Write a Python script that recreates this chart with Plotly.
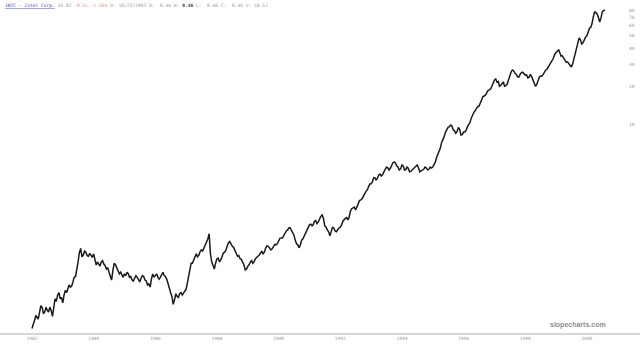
import pandas as pd
import plotly.graph_objects as go

# Month-start readings (approx.), Jan 1982 .. Aug 2000
closes = [
    0.245, 0.285, 0.30, 0.33, 0.36, 0.33, 0.34, 0.36, 0.305, 0.42, 0.45, 0.42,   # 1982
    0.39, 0.49, 0.51, 0.52, 0.57, 0.63, 0.82, 1.05, 0.93, 0.98, 0.91, 0.93,      # 1983
    0.95, 0.775, 0.79, 0.82, 0.79, 0.72, 0.68, 0.59, 0.80, 0.74, 0.66, 0.64,     # 1984
    0.66, 0.68, 0.62, 0.59, 0.61, 0.62, 0.57, 0.64, 0.59, 0.54, 0.52, 0.66,      # 1985
    0.646, 0.62, 0.62, 0.68, 0.63, 0.55, 0.47, 0.38, 0.46, 0.43, 0.47, 0.47,     # 1986
    0.50, 0.646, 0.80, 0.85, 0.95, 0.93, 1.02, 1.06, 1.22, 1.37, 0.82, 0.72,     # 1987
    0.87, 0.82, 0.91, 0.98, 1.09, 1.19, 1.09, 1.02, 0.91, 0.87, 0.82, 0.71,      # 1988
    0.76, 0.82, 0.80, 0.87, 0.91, 0.98, 0.95, 1.06, 1.09, 1.02, 1.09, 1.12,      # 1989
    1.20, 1.27, 1.32, 1.44, 1.52, 1.47, 1.34, 1.14, 1.06, 1.22, 1.32, 1.47,      # 1990
    1.61, 1.58, 1.72, 1.65, 1.81, 1.93, 1.58, 1.47, 1.32, 1.54, 1.44, 1.47,      # 1991
    1.54, 1.72, 1.81, 1.76, 2.07, 2.20, 2.11, 2.42, 2.53, 2.71, 2.96, 3.26,      # 1992
    3.39, 3.80, 3.64, 3.98, 3.91, 4.22, 4.60, 4.36, 4.78, 5.05, 4.69, 4.36,      # 1993
    4.78, 4.36, 4.60, 4.22, 4.36, 4.60, 4.78, 4.22, 4.36, 4.60, 4.36, 4.60,      # 1994
    4.60, 5.05, 5.73, 6.50, 7.52, 8.69, 9.47, 9.89, 9.02, 8.50, 9.47, 8.24,      # 1995
    8.69, 9.02, 9.89, 11.2, 12.4, 13.4, 13.9, 15.6, 16.8, 17.7, 18.7, 20.0,      # 1996
    22.4, 21.5, 20.0, 21.1, 20.0, 20.8, 24.1, 26.9, 25.3, 23.7, 24.8, 25.8,      # 1997
    24.5, 23.3, 24.8, 22.4, 20.0, 22.4, 24.1, 24.8, 26.9, 28.4, 31.0, 33.4,      # 1998
    37.2, 38.7, 34.6, 33.4, 31.0, 30.0, 28.4, 33.4, 40.1, 48.2, 43.1, 46.4,      # 1999
    50.0, 57.4, 62.2, 77.2, 74.5, 64.2, 77.2, 80.0,                              # 2000
]
# Mid-month readings (between consecutive month-start readings)
mid_closes = [
    0.27, 0.31, 0.29, 0.37, 0.32, 0.36, 0.33, 0.34, 0.37, 0.40, 0.47, 0.43,      # 1982
    0.45, 0.47, 0.54, 0.53, 0.62, 0.70, 0.97, 0.90, 1.00, 0.92, 0.96, 0.89,      # 1983
    0.84, 0.82, 0.76, 0.84, 0.77, 0.74, 0.62, 0.70, 0.78, 0.69, 0.68, 0.62,      # 1984
    0.64, 0.66, 0.63, 0.58, 0.64, 0.60, 0.61, 0.63, 0.58, 0.55, 0.60, 0.62,      # 1985
    0.66, 0.60, 0.66, 0.64, 0.60, 0.49, 0.44, 0.41, 0.44, 0.46, 0.45, 0.49,      # 1986
    0.56, 0.74, 0.80, 0.92, 0.90, 0.99, 1.00, 1.15, 1.25, 0.95, 0.78, 0.80,      # 1987
    0.88, 0.85, 0.96, 1.01, 1.16, 1.12, 1.07, 0.98, 0.92, 0.86, 0.78, 0.72,      # 1988
    0.78, 0.84, 0.82, 0.90, 0.93, 1.00, 0.98, 1.10, 1.04, 1.04, 1.13, 1.14,      # 1989
    1.26, 1.27, 1.40, 1.46, 1.53, 1.42, 1.22, 1.12, 1.12, 1.25, 1.37, 1.52,      # 1990
    1.63, 1.62, 1.74, 1.70, 1.88, 1.80, 1.55, 1.42, 1.40, 1.52, 1.42, 1.52,      # 1991
    1.60, 1.78, 1.84, 1.86, 2.16, 2.22, 2.22, 2.50, 2.58, 2.88, 3.04, 3.38,      # 1992
    3.52, 3.78, 3.74, 4.05, 4.00, 4.48, 4.56, 4.50, 4.98, 4.95, 4.60, 4.45,      # 1993
    4.70, 4.40, 4.50, 4.25, 4.45, 4.62, 4.55, 4.30, 4.42, 4.55, 4.42, 4.52,      # 1994
    4.80, 5.50, 6.00, 7.20, 8.00, 9.20, 9.60, 9.70, 8.90, 8.80, 9.10, 8.30,      # 1995
    8.70, 9.60, 10.3, 12.0, 12.8, 13.8, 14.5, 16.5, 17.0, 18.5, 19.0, 21.5,      # 1996
    22.8, 21.8, 20.3, 21.6, 20.2, 22.5, 25.8, 26.5, 24.9, 23.6, 25.6, 25.0,      # 1997
    24.6, 23.6, 24.0, 21.5, 20.6, 23.6, 24.0, 26.0, 27.3, 30.0, 31.8, 35.8,      # 1998
    38.0, 37.0, 34.8, 32.6, 31.2, 29.6, 30.0, 36.5, 44.0, 46.8, 44.0, 48.8,      # 1999
    54.0, 58.5, 70.0, 76.5, 70.0, 69.0, 79.0,                                    # 2000
]
month_dates = pd.date_range("1982-01-01", periods=len(closes), freq="MS")
mid_dates = month_dates[:len(mid_closes)] + pd.Timedelta(days=15)

series = pd.concat([
    pd.Series(closes, index=month_dates),
    pd.Series(mid_closes, index=mid_dates),
]).sort_index()

year_ticks = [f"{y}-01-01" for y in range(1982, 2001, 2)]
year_labels = [str(y) for y in range(1982, 2001, 2)]
price_ticks = [10, 20, 30, 40, 50, 60, 70, 80]
price_labels = [str(v) for v in price_ticks]

header = ("<span style='color:#3a3acc'><u>INTC - Intel Corp.</u></span> "
          "<span style='color:#999'>34.82</span> "
          "<span style='color:#e89090'>-0.51 -1.56%</span> "
          "<span style='color:#999'>D: 10/22/1993 O:  0.46 H:</span> "
          "<span style='color:#444'><b>0.46</b></span> "
          "<span style='color:#999'>L:  0.46 C:  0.46 V: 18.57</span>")

fig = go.Figure()
fig.add_trace(go.Scatter(
    x=series.index, y=series.values, mode="lines",
    line=dict(color="#1a1a1a", width=1.5),
    hoverinfo="skip", showlegend=False,
))

fig.update_layout(
    width=640, height=345,
    margin=dict(l=0, r=12, t=0, b=11),
    paper_bgcolor="white", plot_bgcolor="white",
    xaxis=dict(
        range=["1980-12-18", "2001-05-02"],
        tickvals=year_ticks, ticktext=year_labels,
        showgrid=False, zeroline=False, showline=False,
        ticks="", tickfont=dict(size=4.5, color="#999", family="DejaVu Sans Mono"),
    ),
    yaxis=dict(
        type="log", side="right",
        range=[-0.655, 1.982],
        tickvals=price_ticks, ticktext=price_labels,
        showgrid=False, zeroline=False, showline=False,
        ticks="", tickfont=dict(size=4.5, color="#999", family="DejaVu Sans Mono"),
    ),
    shapes=[dict(type="line", xref="paper", yref="paper",
                 x0=0, x1=1.03, y0=0, y1=0,
                 line=dict(color="#c8c8c8", width=1.5))],
    annotations=[
        dict(text=header, xref="paper", yref="paper", x=0.004, y=0.998,
             xanchor="left", yanchor="top", showarrow=False,
             font=dict(size=4.6, family="DejaVu Sans Mono", color="#999")),
        dict(text="<b>slopecharts.com</b>", xref="paper", yref="paper",
             x=0.968, y=0.01, xanchor="right", yanchor="bottom", showarrow=False,
             font=dict(size=7, family="Liberation Sans", color="#8e8e8e")),
    ],
)

fig.write_html("out.html")
